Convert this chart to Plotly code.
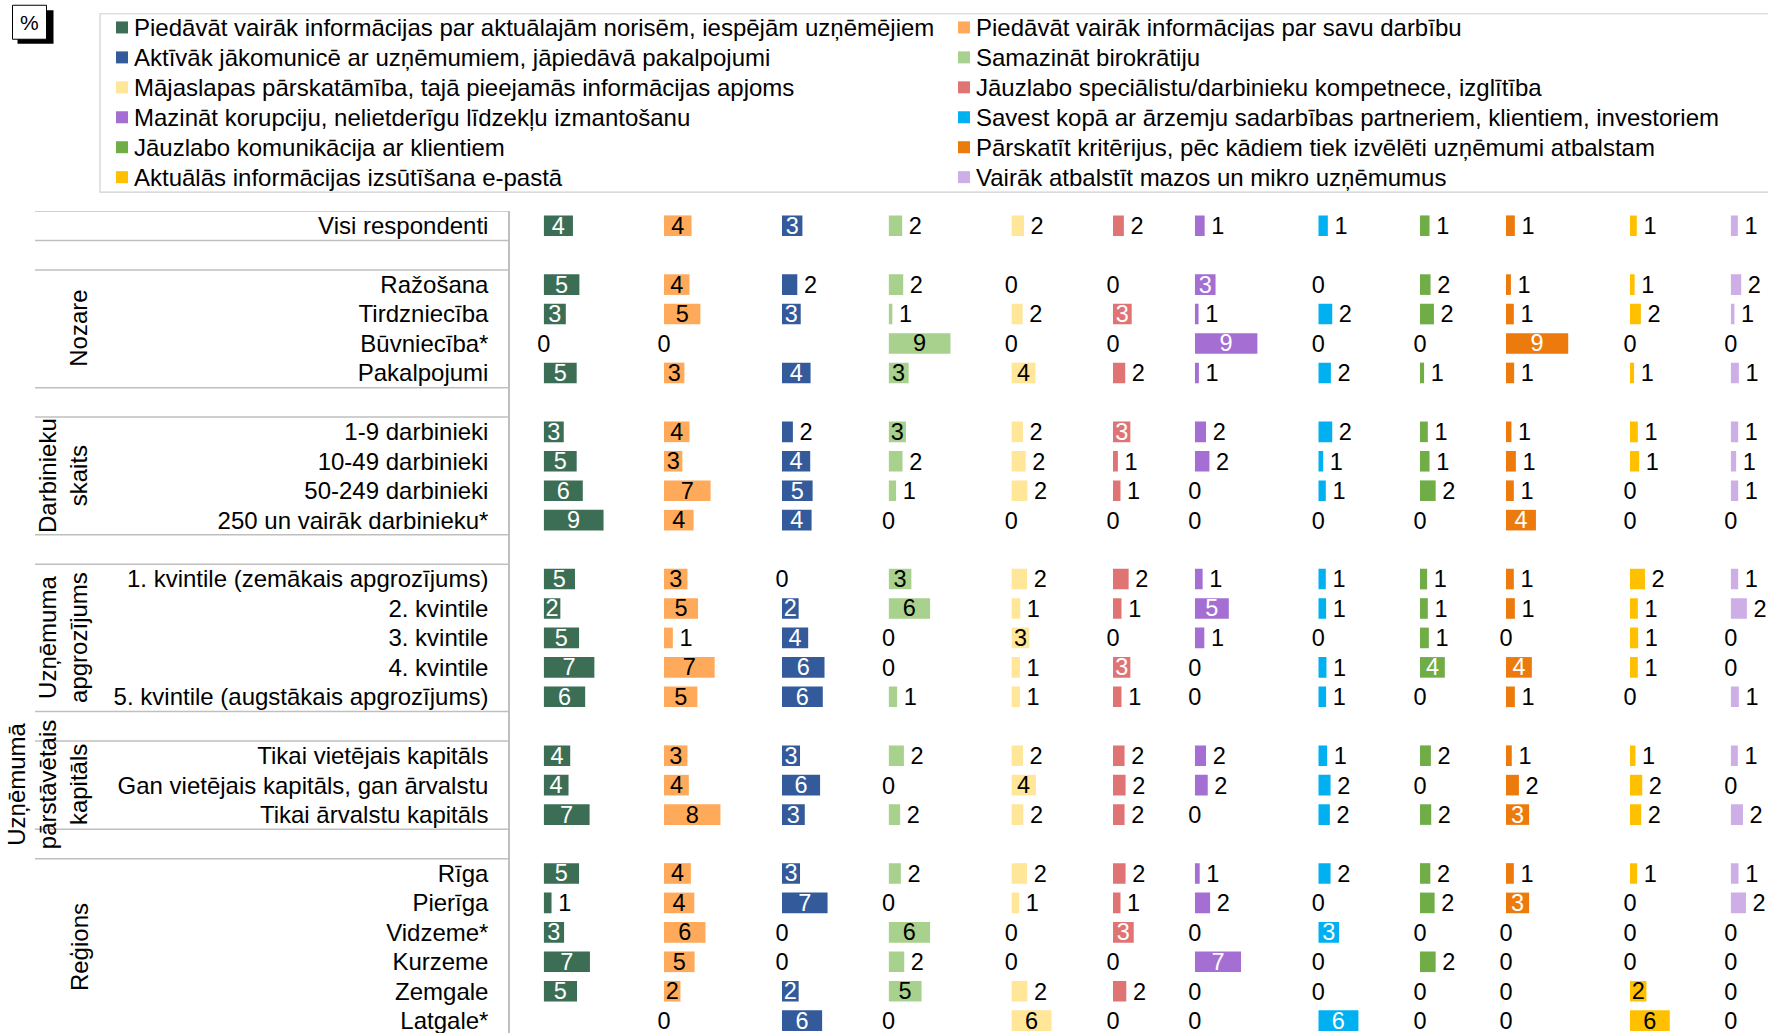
import plotly.graph_objects as go

# ---------------- data ----------------
groups = [
    ("", ["Visi respondenti"]),
    ("Nozare", ["Ražošana", "Tirdzniecība", "Būvniecība*", "Pakalpojumi"]),
    ("Darbinieku<br>skaits", ["1-9 darbinieki", "10-49 darbinieki", "50-249 darbinieki",
                              "250 un vairāk darbinieku*"]),
    ("Uzņēmuma<br>apgrozījums", ["1. kvintile (zemākais apgrozījums)", "2. kvintile", "3. kvintile",
                                 "4. kvintile", "5. kvintile (augstākais apgrozījums)"]),
    ("Uzņēmumā<br>pārstāvētais<br>kapitāls", ["Tikai vietējais kapitāls",
                                              "Gan vietējais kapitāls, gan ārvalstu",
                                              "Tikai ārvalstu kapitāls"]),
    ("Reģions", ["Rīga", "Pierīga", "Vidzeme*", "Kurzeme", "Zemgale", "Latgale*"]),
]

series_names = [
    "Piedāvāt vairāk informācijas par aktuālajām norisēm, iespējām uzņēmējiem",
    "Piedāvāt vairāk informācijas par savu darbību",
    "Aktīvāk jākomunicē ar uzņēmumiem, jāpiedāvā pakalpojumi",
    "Samazināt birokrātiju",
    "Mājaslapas pārskatāmība, tajā pieejamās informācijas apjoms",
    "Jāuzlabo speciālistu/darbinieku kompetnece, izglītība",
    "Mazināt korupciju, nelietderīgu līdzekļu izmantošanu",
    "Savest kopā ar ārzemju sadarbības partneriem, klientiem, investoriem",
    "Jāuzlabo komunikācija ar klientiem",
    "Pārskatīt kritērijus, pēc kādiem tiek izvēlēti uzņēmumi atbalstam",
    "Aktuālās informācijas izsūtīšana e-pastā",
    "Vairāk atbalstīt mazos un mikro uzņēmumus",
]

# values (%) per row, rows in the order of `groups`
s1 = [4.3, 5.25, 3.25, 0, 4.85, 2.95, 4.85, 5.75, 8.8, 4.6, 2.45, 5.2, 7.45, 6.1, 3.9, 3.65, 6.75,
      5.2, 1.15, 3.0, 6.8, 4.9, None]
s2 = [4.05, 3.75, 5.35, 0, 3.0, 3.75, 2.7, 6.85, 4.35, 3.45, 5.0, 1.3, 7.45, 4.9, 3.45, 3.65, 8.3,
      3.95, 4.45, 6.1, 4.5, 2.42, 0]
s3 = [3.0, 2.25, 2.75, None, 4.2, 1.6, 4.15, 4.5, 4.35, 0, 2.45, 3.85, 6.25, 6.0, 2.65, 5.6, 3.35,
      2.65, 6.7, 0, 0, 2.45, 5.9]
s4 = [2.0, 2.15, 0.55, 9.1, 2.95, 2.55, 2.05, 1.1, 0, 3.35, 6.1, 0, 0, 1.25, 2.25, 0, 1.7,
      1.8, 0, 6.1, 2.3, 4.85, 0]
s5 = [1.85, 0, 1.65, 0, 3.55, 1.7, 2.1, 2.35, 0, 2.3, 1.3, 2.65, 1.25, 1.25, 1.7, 3.6, 1.75,
      2.3, 1.15, 0, 0, 2.35, 5.9]
s6 = [1.6, 0, 2.75, 0, 1.8, 2.55, 0.72, 1.1, 0, 2.3, 1.25, 0, 2.55, 1.25, 1.7, 1.85, 1.7,
      1.85, 1.1, 3.05, 0, 1.95, 0]
s7 = [1.45, 3.05, 0.55, 9.2, 0.6, 1.65, 2.15, 0, 0, 1.15, 5.0, 1.4, 0, 0, 1.65, 1.9, 0,
      0.72, 2.25, 0, 6.8, 0, 0]
s8 = [1.4, 0, 2.05, 0, 1.85, 2.05, 0.72, 1.1, 0, 1.1, 1.15, 0, 1.2, 1.15, 1.3, 1.8, 1.7,
      1.8, 0, 3.05, 0, 0, 5.9]
s9 = [1.4, 1.55, 2.05, 0, 0.6, 1.15, 1.4, 2.3, 0, 1.05, 1.15, 1.3, 3.65, 0, 1.6, 0, 1.65,
      1.52, 2.15, 0, 2.3, 0, 0]
s10 = [1.3, 0.72, 1.15, 9.15, 1.2, 0.8, 1.45, 1.15, 4.4, 1.15, 1.3, 0, 3.8, 1.3, 0.85, 1.9, 3.4,
       1.15, 3.4, 0, 0, 0, 0]
s11 = [1.0, 0.68, 1.6, 0, 0.6, 1.15, 1.35, 0, 0, 2.2, 1.15, 1.2, 1.15, 0, 0.8, 1.8, 1.65,
       1.05, 0, 0, 0, 2.42, 5.85]
s12 = [1.05, 1.55, 0.55, 0, 1.2, 1.1, 0.8, 1.1, 0, 1.1, 2.38, 0, 0, 1.2, 1.05, 0, 1.8,
       1.15, 2.25, 0, 0, 0, 0]
series_values = [s1, s2, s3, s4, s5, s6, s7, s8, s9, s10, s11, s12]

# ---------------- style / layout ----------------
colors = ["#3B6E55", "#FFAA5A", "#335A9A", "#A9D18E", "#FFE699", "#E07474",
          "#A46ED2", "#00B0F0", "#70AD47", "#EC7A0C", "#FFC000", "#CDAEE6"]
inside_text_colors = ["white", "black", "white", "black", "black", "white",
                      "white", "white", "white", "white", "black", "black"]
panel_left_px = [543.7, 664, 782, 888.6, 1011.4, 1113, 1194.8, 1318.3, 1420, 1506, 1630, 1730.7]
PX_PER_UNIT = 6.8
INSIDE_MIN = 2.4          # labels of bars at least this long sit inside the bar
W, H = 1768, 1033
TOP = 210.8
ROW_PX = 29.45
LABEL_DROP_PX = 2.5       # outside labels sit on the same line as inside labels
AXIS_X = 509
FONT = "Arial, Liberation Sans, sans-serif"
FS = 23.5
TICK_FS = 24
LEG_FS = 24
LEG_BOX = (100, 13.5, 1790, 192)        # left, top, right, bottom (px)
LEG_COL_X = [116, 958]                  # marker left edge of each legend column (px)
LEG_ROW0, LEG_ROW_PX = 27.2, 29.95

# categories with spacer rows between groups
cats, vals_index, spacer_idx, group_centers = [], [], [], []
k = 0
for gi, (title, rows) in enumerate(groups):
    if gi > 0:
        spacer_idx.append(len(cats))
        cats.append(" " * gi)
        vals_index.append(None)
    start = len(cats)
    for r in rows:
        cats.append(r)
        vals_index.append(k)
        k += 1
    group_centers.append((title, (start + len(cats) - 1) / 2))

fig = go.Figure()
for s, (name, vals) in enumerate(zip(series_names, series_values)):
    xa = "x" if s == 0 else f"x{s + 1}"
    full = [None if i is None else vals[i] for i in vals_index]
    inside = [v is not None and v >= INSIDE_MIN for v in full]
    fig.add_trace(go.Bar(
        y=cats, x=full, orientation="h", name=name, showlegend=False,
        xaxis=xa, yaxis="y",
        marker=dict(color=colors[s], line=dict(width=0)), width=0.7,
        texttemplate="%{x:.0f}", textposition=["inside" if f else "none" for f in inside],
        insidetextanchor="middle", constraintext="none", textangle=0, cliponaxis=False,
        insidetextfont=dict(color=inside_text_colors[s], size=FS, family=FONT),
        hovertemplate="%{y}: %{x:.1f}%<extra></extra>",
    ))
    # labels outside the short bars (zero labels centred on the bar base)
    out_x = [v if (v is not None and not f) else None for v, f in zip(full, inside)]
    fig.add_trace(go.Scatter(
        y=cats, x=out_x, mode="markers+text", showlegend=False, hoverinfo="skip",
        xaxis=xa, yaxis="y2", cliponaxis=False,
        marker=dict(color="rgba(0,0,0,0)", opacity=0, line=dict(width=0),
                    size=[0 if v == 0 else 9 for v in out_x]),
        texttemplate="%{x:.0f}",
        textposition=["middle center" if v == 0 else "middle right" for v in out_x],
        textfont=dict(color="black", size=FS, family=FONT),
    ))

layout_axes = {}
for s in range(12):
    left = panel_left_px[s]
    right = panel_left_px[s + 1] - 1 if s < 11 else W
    layout_axes["xaxis" if s == 0 else f"xaxis{s + 1}"] = dict(
        domain=[left / W, right / W], range=[0, (right - left) / PX_PER_UNIT],
        visible=False, anchor="y", fixedrange=True)

plot_h = H - TOP
y_range = [-0.5 + plot_h / ROW_PX, -0.5]
shift = LABEL_DROP_PX / ROW_PX
fig.update_layout(**layout_axes)
fig.update_layout(
    width=W, height=H, plot_bgcolor="white", paper_bgcolor="white",
    margin=dict(l=0, r=0, t=TOP, b=0, pad=0, autoexpand=False),
    barmode="overlay", showlegend=False,
    font=dict(family=FONT, size=FS, color="black"),
    yaxis=dict(type="category", categoryorder="array", categoryarray=cats,
               range=y_range, anchor="free", position=AXIS_X / W,
               showline=True, linecolor="#BFBFBF", linewidth=1.5, showgrid=False,
               ticks="", ticklabelstandoff=15, tickfont=dict(size=TICK_FS, color="black"),
               fixedrange=True),
    yaxis2=dict(type="category", categoryorder="array", categoryarray=cats,
                range=[y_range[0] - shift, y_range[1] - shift], overlaying="y",
                anchor="free", position=0, visible=False, fixedrange=True),
)


def xp(p):
    return p / W


def yp(p):
    return (H - p) / plot_h


# table separator lines
line_style = dict(color="#BFBFBF", width=1.5)
boundaries = [-0.5]
for i in spacer_idx:
    boundaries += [i - 0.5, i + 0.5]
for b in boundaries:
    fig.add_shape(type="line", xref="paper", yref="y", x0=xp(35), x1=xp(AXIS_X),
                  y0=b, y1=b, line=line_style)

# group titles (rotated)
for title, yc in group_centers:
    if not title:
        continue
    nlines = title.count("<br>") + 1
    fig.add_annotation(text=title, xref="paper", yref="y", x=xp(79 - 16 * (nlines - 1)), y=yc,
                       textangle=-90, showarrow=False, xanchor="center", yanchor="middle",
                       font=dict(size=TICK_FS, color="black", family=FONT))

# legend (two columns, filled row by row)
l, t, r, b = LEG_BOX
fig.add_shape(type="rect", xref="paper", yref="paper", x0=xp(l), x1=xp(r), y0=yp(b), y1=yp(t),
              fillcolor="white", line=dict(color="#D0D0D0", width=1.2), layer="below")
for s, name in enumerate(series_names):
    col, row = s % 2, s // 2
    yc = LEG_ROW0 + row * LEG_ROW_PX
    mx = LEG_COL_X[col]
    fig.add_shape(type="rect", xref="paper", yref="paper", x0=xp(mx), x1=xp(mx + 12),
                  y0=yp(yc + 6), y1=yp(yc - 6), fillcolor=colors[s], line=dict(width=0))
    fig.add_annotation(text=name, xref="paper", yref="paper", x=xp(mx + 16), y=yp(yc),
                       showarrow=False, xanchor="left", yanchor="middle",
                       font=dict(size=LEG_FS, color="black", family=FONT))

# "%" box with shadow
fig.add_shape(type="rect", xref="paper", yref="paper", x0=xp(17.5), x1=xp(53.5),
              y0=yp(43.5), y1=yp(10), fillcolor="black", line=dict(width=0))
fig.add_shape(type="rect", xref="paper", yref="paper", x0=xp(12.5), x1=xp(46.5),
              y0=yp(39), y1=yp(5), fillcolor="white", line=dict(color="black", width=1))
fig.add_annotation(text="%", xref="paper", yref="paper", x=xp(29.5), y=yp(22.5),
                   showarrow=False, xanchor="center", yanchor="middle",
                   font=dict(size=21, color="black", family=FONT))

fig.write_html("out.html", config={"displayModeBar": False},
               post_script="document.body.style.margin='0';")
